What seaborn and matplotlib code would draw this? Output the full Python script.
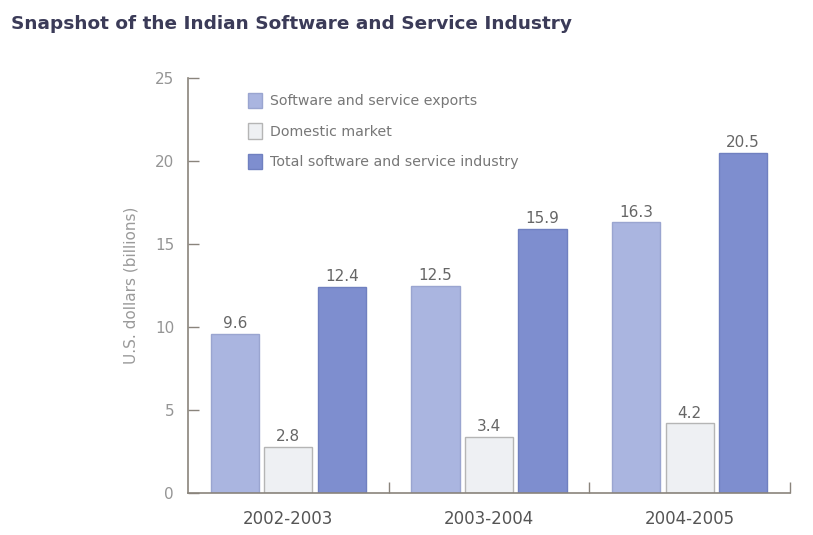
import matplotlib
matplotlib.use("Agg")
import matplotlib.pyplot as plt
import seaborn as sns
import pandas as pd

years = ["2002-2003", "2003-2004", "2004-2005"]
series = ["Software and service exports", "Domestic market", "Total software and service industry"]
exports = [9.6, 12.5, 16.3]
domestic = [2.8, 3.4, 4.2]
total = [12.4, 15.9, 20.5]
colors = ["#aab5e0", "#eef0f3", "#7e8ecf"]
edges = ["#9aa5d0", "#b5b5b5", "#7080c0"]

rows = []
for s, vals in zip(series, [exports, domestic, total]):
    for y, v in zip(years, vals):
        rows.append({"year": y, "series": s, "value": v})
df = pd.DataFrame(rows)

sns.set_style("white")
fig = plt.figure(figsize=(8.13, 5.35), dpi=100)
ax = fig.add_axes([0.2312, 0.0785, 0.7405, 0.7757])

sns.barplot(data=df, x="year", y="value", hue="series", hue_order=series,
            order=years, palette=colors, width=0.8, gap=0.1, ax=ax,
            saturation=1, legend=True)

for i, cont in enumerate(ax.containers):
    for p in cont.patches:
        p.set_edgecolor(edges[i])
        p.set_linewidth(1.0)
    ax.bar_label(cont, labels=[f"{v:.1f}" for v in cont.datavalues],
                 padding=2, fontsize=11, color="#666666")

ax.set_xlim(-0.5, 2.5)
ax.set_ylim(0, 25)
ax.set_yticks([0, 5, 10, 15, 20, 25])
ax.tick_params(axis="y", direction="in", length=8, width=1, color="#8a847c",
               labelsize=11, labelcolor="#959595", pad=10, left=True)
ax.tick_params(axis="x", which="major", length=0, labelsize=12,
               labelcolor="#555555", pad=12)
ax.set_xticks([0.5, 1.5, 2.5], minor=True)
ax.tick_params(axis="x", which="minor", direction="in", length=8, width=1,
               color="#8a847c", bottom=True)
ax.set_xlabel("")
ax.set_ylabel("U.S. dollars (billions)", fontsize=11, color="#9a9a9a", labelpad=12)

for side in ["top", "right"]:
    ax.spines[side].set_visible(False)
for side in ["left", "bottom"]:
    ax.spines[side].set_color("#8a847c")
    ax.spines[side].set_linewidth(1.2)

handles, labels = ax.get_legend_handles_labels()
for h, e in zip(handles, edges):
    h.set_edgecolor(e)
ax.legend(handles, labels, loc="upper left", bbox_to_anchor=(0.078, 0.995),
          frameon=False, fontsize=10.2, labelspacing=1.05, handlelength=1.0,
          handleheight=1.3, handletextpad=0.6, labelcolor="#777777")

fig.text(0.014, 0.955, "Snapshot of the Indian Software and Service Industry",
         fontsize=13.3, fontweight="bold", color="#3b3b58", ha="left", va="center")

fig.savefig("out.png", dpi=100)
